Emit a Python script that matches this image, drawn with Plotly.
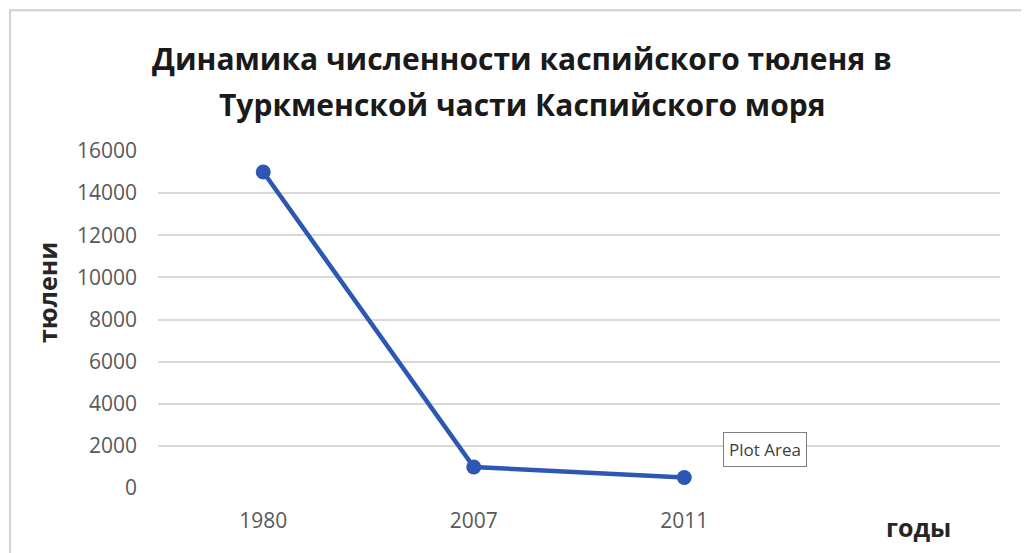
import plotly.graph_objects as go

years = ["1980", "2007", "2011"]
seals = [15000, 1000, 500]
extra_category = [""]  # empty fourth slot on the category axis
y_ticks = [0, 2000, 4000, 6000, 8000, 10000, 12000, 14000, 16000]
y_tick_labels = [str(v) for v in y_ticks]

title_line1 = "Динамика численности каспийского тюленя в"
title_line2 = "Туркменской части Каспийского моря"
y_title = "тюлени"
x_title = "годы"
tooltip_text = "Plot Area"

LINE = "#2d57b2"
FONT = "Open Sans"

fig = go.Figure()
fig.add_trace(go.Scatter(
    x=years, y=seals, mode="lines+markers",
    line=dict(color=LINE, width=4.5),
    marker=dict(color=LINE, size=15),
    hoverinfo="skip", showlegend=False,
))

fig.update_layout(
    width=1029, height=553,
    margin=dict(l=150, r=37, t=143, b=73),
    paper_bgcolor="white", plot_bgcolor="white",
    font=dict(family=FONT, color="#595959"),
    xaxis=dict(
        type="category",
        categoryorder="array", categoryarray=years + extra_category,
        range=[-0.5, 3.5],
        showgrid=False, zeroline=False, showline=False,
        ticks="", tickfont=dict(size=21, color="#595959"),
        ticklabelstandoff=18,
    ),
    yaxis=dict(
        range=[0, 16000], tickvals=y_ticks, ticktext=y_tick_labels,
        showgrid=True, gridcolor="#d9d9d9", gridwidth=2,
        zeroline=False, showline=False,
        ticks="", tickfont=dict(size=21, color="#595959"),
        ticklabelstandoff=20,
    ),
)

# chart frame (top/left edges visible)
fig.add_shape(type="rect", xref="paper", yref="paper",
              x0=-0.1758, x1=1.5, y0=-1.0, y1=1.418,
              line=dict(color="#d0d0d0", width=2), fillcolor="rgba(0,0,0,0)", layer="below")

ann_font_title = dict(family=FONT, size=30, color="#1a1a1a")
fig.add_annotation(text="<b>" + title_line1 + "</b>", xref="paper", yref="paper",
                   x=(522 - 158) / 842, y=(488 - 59) / 337, showarrow=False, font=ann_font_title,
                   xanchor="center", yanchor="middle")
fig.add_annotation(text="<b>" + title_line2 + "</b>", xref="paper", yref="paper",
                   x=(522 - 158) / 842, y=(488 - 105) / 337, showarrow=False, font=ann_font_title,
                   xanchor="center", yanchor="middle")
fig.add_annotation(text="<b>" + y_title + "</b>", xref="paper", yref="paper",
                   x=(47 - 158) / 842, y=(488 - 293) / 337, textangle=-90, showarrow=False,
                   font=dict(family=FONT, size=25, color="#262626"),
                   xanchor="center", yanchor="middle")
fig.add_annotation(text="<b>" + x_title + "</b>", xref="paper", yref="paper",
                   x=(918 - 158) / 842, y=(488 - 527) / 337, showarrow=False,
                   font=dict(family=FONT, size=25, color="#262626"),
                   xanchor="center", yanchor="middle")
fig.add_annotation(text=tooltip_text, xref="paper", yref="paper",
                   x=(765 - 158) / 842, y=(488 - 449) / 337, showarrow=False,
                   font=dict(family=FONT, size=17, color="#404040"),
                   bgcolor="white", bordercolor="#7f7f7f", borderwidth=1, borderpad=5,
                   xanchor="center", yanchor="middle")

fig.write_html("out.html")
